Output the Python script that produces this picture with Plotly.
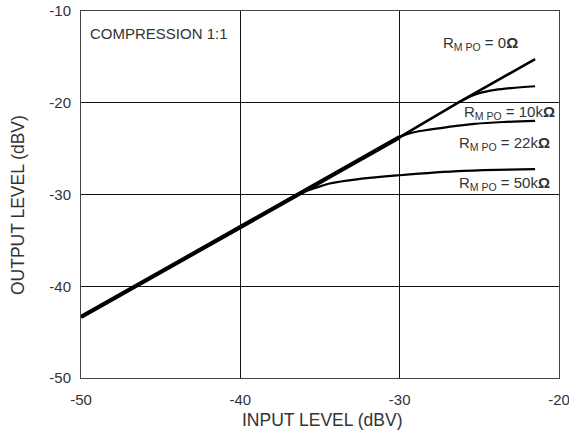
import plotly.graph_objects as go

# ---- data ----
in_main = [-50.0, -36.3, -30.0, -26.3, -21.5]
out_main = [-43.35, -29.9, -23.75, -19.95, -15.25]

in_10k = [-26.3, -25.6, -25.0, -24.0, -23.0, -21.5]
out_10k = [-19.95, -19.35, -18.95, -18.6, -18.4, -18.2]

in_22k = [-30.0, -29.3, -28.4, -27.0, -25.3, -23.5, -21.5]
out_22k = [-23.75, -23.3, -23.0, -22.65, -22.3, -22.1, -21.98]

in_50k = [-36.3, -35.4, -34.4, -32.5, -30.0, -26.0, -21.5]
out_50k = [-29.9, -29.35, -28.8, -28.3, -27.9, -27.43, -27.24]

x_ticks = [-50, -40, -30, -20]
y_ticks = [-50, -40, -30, -20, -10]

labels = ["R<sub>M PO</sub> = 0<b>Ω</b>",
          "R<sub>M PO</sub> = 10k<b>Ω</b>",
          "R<sub>M PO</sub> = 22k<b>Ω</b>",
          "R<sub>M PO</sub> = 50k<b>Ω</b>"]

FONT = "Liberation Sans, Arial, sans-serif"
TXT = "#333333"

fig = go.Figure()
# shared (common) portion drawn thicker
fig.add_trace(go.Scatter(x=in_main[:3], y=out_main[:3], mode="lines",
                         line=dict(color="black", width=4.2), hoverinfo="skip"))
fig.add_trace(go.Scatter(x=in_main, y=out_main, mode="lines",
                         line=dict(color="black", width=2.6), hoverinfo="skip"))
for xs, ys in [(in_10k, out_10k), (in_22k, out_22k), (in_50k, out_50k)]:
    fig.add_trace(go.Scatter(x=xs, y=ys, mode="lines", line_shape="spline",
                             line=dict(color="black", width=2.2), hoverinfo="skip"))

ann = []
ann.append(dict(text="COMPRESSION 1:1", xref="paper", yref="paper", x=0.0138, y=0.9385,
                xanchor="left", yanchor="middle", showarrow=False,
                font=dict(family=FONT, size=15, color=TXT)))
lab_pos = [(0.9179, 0.912), (0.9952, 0.7242), (0.9848, 0.6398), (0.9848, 0.5309)]
for t, (px, py) in zip(labels, lab_pos):
    ann.append(dict(text=t, xref="paper", yref="paper", x=px, y=py,
                    xanchor="right", yanchor="middle", showarrow=False,
                    font=dict(family=FONT, size=15, color=TXT)))
ann.append(dict(text="INPUT LEVEL (dBV)", xref="paper", yref="paper", x=0.505, y=-0.1144,
                xanchor="center", yanchor="middle", showarrow=False,
                font=dict(family=FONT, size=17.5, color=TXT)))
ann.append(dict(text="OUTPUT LEVEL (dBV)", xref="paper", yref="paper", x=-0.132, y=0.471,
                xanchor="center", yanchor="middle", showarrow=False, textangle=-90,
                font=dict(family=FONT, size=17.5, color=TXT)))

fig.update_layout(
    width=569, height=434,
    margin=dict(l=81, r=10, t=11, b=56, autoexpand=False),
    paper_bgcolor="white", plot_bgcolor="white",
    showlegend=False,
    annotations=ann,
    font=dict(family=FONT, color=TXT),
)
fig.update_xaxes(range=[-50, -20], tickvals=x_ticks, ticktext=[str(v) for v in x_ticks],
                 showline=True, mirror=True, linecolor="#444444", linewidth=1,
                 showgrid=True, gridcolor="#111111", gridwidth=1, zeroline=False,
                 automargin=False, ticklabeloverflow="allow",
                 ticks="", ticklabelstandoff=8, tickfont=dict(size=15, color=TXT, family=FONT))
fig.update_yaxes(range=[-50, -10], tickvals=y_ticks, ticktext=[str(v) for v in y_ticks],
                 showline=True, mirror=True, linecolor="#444444", linewidth=1,
                 showgrid=True, gridcolor="#111111", gridwidth=1, zeroline=False,
                 automargin=False, ticklabeloverflow="allow",
                 ticks="", ticklabelstandoff=6, tickfont=dict(size=15, color=TXT, family=FONT))

fig.write_html("out.html", config={"displayModeBar": False},
               post_script="document.body.style.margin='0';document.body.style.overflow='hidden';")
